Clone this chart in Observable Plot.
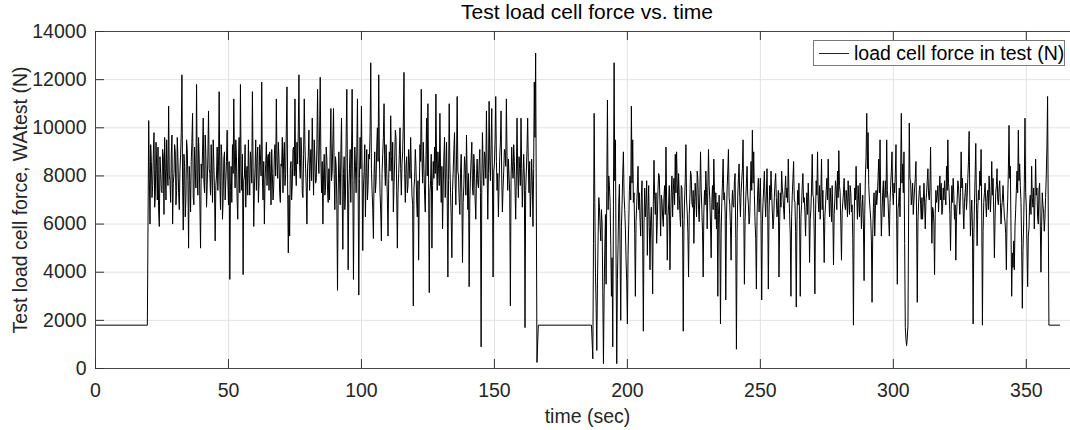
<!DOCTYPE html>
<html>
<head>
<meta charset="utf-8">
<script src="https://cdn.jsdelivr.net/npm/d3@7"></script>
<script src="https://cdn.jsdelivr.net/npm/@observablehq/plot@0.6"></script>
<style>
  html, body { margin: 0; padding: 0; background: #fff; overflow: hidden; }
  body { font-family: "Liberation Sans", Arial, Helvetica, sans-serif; }
  #wrap { position: relative; width: 1070px; height: 430px; overflow: hidden; }
  #title { position: absolute; left: 0; top: 1px; width: 1174px; text-align: center;
           font-size: 21px; line-height: 22px; color: #000; white-space: nowrap; }
  #legend { position: absolute; left: 813px; top: 40px; width: 252px; height: 26px;
            border: 1px solid #7a7a7a; background: #fff; box-sizing: border-box; }
  #legend .swatch { position: absolute; left: 5px; top: 12px; width: 30px; height: 0;
                    border-top: 1px solid #222; }
  #legend .lab { position: absolute; left: 40px; top: 1px; font-size: 19.5px; line-height: 22px;
                 color: #000; white-space: nowrap; }
</style>
</head>
<body>
<div id="wrap">
  <div id="chart"></div>
  <div id="title"></div>
  <div id="legend"><div class="swatch"></div><div class="lab"></div></div>
</div>
<script>
// ---- Text ----
const chartTitle = "Test load cell force vs. time";
const xLabel = "time (sec)";
const yLabel = "Test load cell force, WAtest (N)";
const seriesName = "load cell force in test (N)";

// ---- Axes ----
const xDomain = [0, 370];
const yDomain = [0, 14000];
const xTicks = [0, 50, 100, 150, 200, 250, 300, 350];
const yTicks = [0, 2000, 4000, 6000, 8000, 10000, 12000, 14000];

// ---- Data (N), sampled every 0.25 s; each row = 5 s ----
const sampleStep = 0.25;
const idleForce = 1800;
const idleSpans = [[0, 19.5], [166.5, 186.5], [358.5, 362.5]];

const phase1Start = 20;
const phase1Values = [
  10300, 7900, 6000, 9300, 8600, 7100, 7600, 8900, 9800, 6700, 7200, 9400, 8400, 7000, 9200, 6500, 5900, 8800, 8100, 7400,
  7300, 9100, 8800, 6400, 9600, 8300, 7000, 9500, 8200, 7600, 10900, 8000, 7800, 6900, 8900, 9700, 6000, 7700, 8100, 9300,
  9000, 6800, 7400, 9600, 8700, 7300, 6600, 8200, 8900, 9800, 12200, 7600, 5750, 8900, 8400, 6300, 7100, 9500, 9100, 7800,
  5000, 8400, 7800, 6500, 8600, 9400, 10600, 7100, 6800, 9200, 8300, 7500, 11800, 8000, 7200, 9600, 8700, 6800, 5000, 8500,
  7900, 9000, 10400, 7800, 7300, 9700, 8900, 6700, 7600, 8800, 10700, 8300, 8100, 7200, 9300, 8000, 6900, 9500, 8500, 7400,
  5300, 7600, 8000, 9200, 7400, 8400, 11500, 7800, 6600, 9300, 8800, 6200, 7100, 8700, 9000, 7000, 7800, 8600, 9900, 8000,
  6800, 8600, 3700, 7400, 8400, 6900, 9300, 8100, 11200, 8700, 7500, 9500, 8800, 7000, 6200, 8500, 9600, 7300, 11800, 8200,
  7400, 8900, 3900, 7800, 8000, 9300, 6700, 8100, 8400, 7200, 9500, 8000, 7200, 9000, 8600, 7700, 11500, 8400, 5900, 7500,
  8300, 9500, 7400, 8700, 9200, 6900, 7800, 9300, 8900, 8000, 11900, 7900, 7000, 8600, 6000, 7800, 8500, 9400, 7600, 8800,
  8900, 7400, 9000, 8200, 6800, 9100, 8100, 7000, 7500, 8900, 9300, 8000, 11200, 8600, 7900, 9400, 8700, 7300, 6900, 8500,
  8400, 9600, 7300, 8800, 9400, 7600, 8100, 9900, 11700, 7500, 4800, 7200, 5500, 8300, 8600, 7000, 7700, 9100, 9200, 8000,
  11200, 8200, 7600, 9400, 8500, 9900, 12200, 8400, 7900, 9600, 9000, 7300, 7100, 8900, 11200, 9300, 8300, 7500, 6000, 8400,
  8800, 9900, 7400, 8500, 9100, 7800, 10400, 8700, 7200, 9500, 8600, 7700, 7800, 9300, 11600, 8800, 8100, 9700, 12100, 8600,
  7300, 8600, 6000, 8000, 8900, 7200, 7500, 9200, 8700, 7400, 6900, 8300, 7000, 9100, 10800, 7800, 8200, 9400, 10800, 8100,
  6600, 8800, 8400, 6800, 3250, 7200, 9000, 7900, 6800, 8900, 10400, 7400, 4950, 8100, 8800, 6600, 7200, 9600, 11600, 8000,
  4100, 7400, 8300, 9100, 6900, 8700, 11600, 7800, 3700, 7600, 9200, 8400, 7300, 9000, 11200, 7700, 3050, 7900, 9600, 8300,
  10900, 8200, 4900, 7500, 8200, 9300, 6300, 8000, 9100, 7000, 7600, 8900, 8700, 9800, 12700, 8300, 7400, 6600, 5400, 8100,
  9000, 7300, 7800, 9200, 10000, 8600, 12200, 8800, 7300, 6500, 5300, 8100, 8900, 9600, 11000, 8400, 7600, 9300, 8300, 7000,
  5500, 7900, 9000, 8200, 10500, 8800, 7800, 9400, 6500, 7600, 8700, 9900, 9600, 7400, 5000, 7300, 8100, 8900, 10000, 8300,
  7200, 8500, 9000, 10200, 12300, 8100, 6900, 8400, 8800, 7300, 7600, 9100, 8600, 7900, 9600, 8300, 7200, 6800, 2600, 7500,
  7900, 9100, 8400, 7000, 6300, 7800, 4500, 7400, 9300, 8600, 11600, 8800, 7700, 9400, 8300, 7200, 6500, 8700, 10400, 8000,
  11000, 7700, 3150, 7300, 7800, 8900, 5000, 7600, 8600, 7900, 9200, 8100, 11400, 8500, 7400, 9000, 8300, 7600, 10600, 8200,
  6900, 8400, 5800, 7500, 8800, 9600, 7100, 8300, 9400, 7200, 3800, 7800, 11000, 8500, 7300, 6300, 4600, 7400, 8200, 9100,
  9800, 7700, 6800, 8700, 11300, 8200, 8000, 7000, 6400, 8100, 8900, 7300, 4400, 6900, 7600, 8800, 8400, 7200, 9700, 8000,
  6600, 8100, 3400, 7000, 8000, 8700, 9400, 7500, 7200, 8900, 8300, 7000, 6200, 7900, 8700, 7700, 7500, 8500, 9100, 7300,
  900, 7600, 9800, 8300, 7600, 9000, 8800, 7900, 10700, 8400, 6200, 8100, 11100, 8700, 7800, 9300, 10800, 8000, 3800, 8200,
  8500, 9500, 11300, 8600, 7400, 8100, 6300, 7700, 8800, 9400, 10700, 7900, 6500, 7500, 8200, 9100, 9000, 8400, 11200, 8800,
  7400, 8700, 8000, 7300, 2600, 7800, 9200, 8400, 7900, 9300, 8600, 7500, 6200, 8000, 10400, 8200, 7100, 8800, 8300, 7600,
  10400, 8300, 6700, 7900, 8900, 8000, 1700, 7400, 8200, 9100, 10400, 8500, 7300, 8600, 6300, 7400, 8700, 7800, 5900, 8300,
  11900, 9600, 13100, 7000, 250
];

const phase2Start = 187;
const phase2Values = [
  400, 5200, 10600, 6900, 4000, 2500, 750, 3600, 5500, 7100, 6700, 5900, 5300, 6600, 6000, 3200, 200, 3100, 4900, 6400,
  3500, 7400, 11150, 6600, 8000, 7600, 6900, 5100, 3000, 4600, 900, 6800, 12700, 7800, 9500, 4400, 200, 3700, 5200, 6900,
  7650, 4800, 2000, 5900, 6800, 8100, 9000, 7200, 6600, 5800, 4500, 3600, 1850, 4700, 6000, 7400, 8000, 7000, 10900, 7700,
  9500, 6900, 7300, 5600, 3000, 6100, 6800, 7500, 8400, 6600, 7300, 6200, 5500, 7100, 7800, 5300, 1550, 6000, 7500, 6300,
  6900, 7800, 4700, 6500, 7600, 5900, 4100, 6200, 6700, 5400, 3100, 6800, 8650, 7200, 6400, 7300, 5200, 6100, 7400, 8100,
  8000, 6800, 5500, 7200, 7000, 6300, 5900, 7100, 7600, 6400, 9200, 7000, 4500, 6300, 6800, 7600, 4100, 6200, 7300, 8000,
  6300, 7400, 7900, 6800, 8900, 7300, 9000, 7700, 6600, 8100, 7200, 6400, 5900, 7600, 7500, 6200, 1550, 5800, 7000, 7800,
  9300, 7000, 6500, 5600, 3800, 6400, 7100, 8200, 8000, 6900, 6700, 7400, 5200, 6800, 7700, 7100, 6300, 8200, 7900, 6600,
  6100, 7300, 9000, 7400, 6600, 5700, 3800, 6500, 7400, 6800, 8200, 7300, 5800, 7500, 9100, 7600, 7000, 6000, 4600, 6900,
  7600, 6600, 8700, 7400, 6200, 7300, 5800, 6900, 3000, 6400, 7200, 6000, 1850, 5600, 6900, 7700, 8700, 7000, 7300, 6500,
  2850, 6200, 7500, 8200, 9100, 7100, 6800, 5900, 4500, 6600, 7400, 6800, 6700, 7800, 8100, 5400, 800, 5600, 7200, 7900,
  8500, 7100, 6300, 7300, 7800, 8300, 9500, 6700, 3500, 6100, 7000, 7700, 8400, 7200, 6800, 6000, 6300, 7500, 8600, 7400,
  9900, 7700, 9000, 7200, 6100, 5400, 3300, 6300, 7400, 7900, 6500, 7100, 7900, 6200, 2850, 6000, 6900, 7500, 8200, 7000,
  6300, 7200, 8300, 6800, 3300, 6400, 7600, 7000, 8200, 7300, 6500, 5800, 6200, 7100, 7700, 8100, 7100, 6300, 6600, 7400,
  3800, 6100, 7300, 6700, 8200, 7500, 7200, 6600, 6200, 7400, 8000, 7100, 7500, 6900, 8700, 7300, 6400, 5500, 3000, 6300,
  7200, 7900, 8600, 7000, 6900, 5700, 2550, 6000, 7400, 6800, 7700, 6200, 3000, 6300, 6800, 7600, 8100, 6900, 7100, 6500,
  5500, 6700, 7300, 6400, 7700, 6800, 4400, 6200, 6600, 7500, 8900, 7200, 7100, 5600, 3100, 6500, 7800, 7200, 9000, 7000,
  6500, 7600, 6200, 7300, 8700, 6600, 7400, 6100, 4400, 6300, 6800, 7400, 7900, 7000, 8700, 7300, 6300, 7500, 6900, 6100,
  7600, 6500, 4300, 6400, 7000, 7800, 7500, 6600, 8200, 7100, 9050, 7600, 7300, 6000, 4500, 6500, 6900, 7300, 7900, 6800,
  6600, 7400, 7000, 6300, 7800, 7100, 6400, 7600, 7300, 6500, 6800, 5400, 1800, 6100, 7500, 7000, 8400, 7200, 6200, 7600,
  6900, 6300, 7700, 7000, 5800, 6700, 7200, 6000, 3650, 6400, 8000, 8800, 10600, 8300, 9800, 7600, 7000, 6600, 6200, 5300,
  2750, 5600, 6700, 7300, 5500, 6600, 7400, 6800, 7200, 7900, 8700, 7300, 9500, 7000, 5500, 6500, 7300, 7800, 6300, 7100,
  7800, 7100, 9500, 7400, 7000, 6200, 5500, 6900, 7600, 8200, 9000, 7300, 6800, 7700, 7300, 8100, 9300, 6200, 3500, 6600,
  6900, 7500, 6300, 8200, 10600, 7700, 8500, 7300, 9000, 5200, 1700, 1200, 950, 1300, 1800, 6500, 10200, 7900, 7800, 6800,
  7200, 7700, 6400, 7000, 7500, 7900, 8600, 6300, 2750, 6100, 6900, 7400, 7600, 6800, 6200, 7100, 6200, 6900, 7700, 7000,
  5800, 6900, 7300, 7800, 8300, 7200, 7000, 7500, 9200, 6800, 5200, 6700, 6600, 6000, 3900, 6400, 7400, 6900, 7200, 7600,
  6500, 7300, 8000, 7000, 7700, 6400, 6600, 7500, 7000, 7800, 7200, 6800, 8400, 7400, 9500, 7700, 7300, 6400, 4900, 6600,
  7600, 6900, 7900, 7200, 6200, 6800, 4500, 6300, 7000, 7800, 7600, 7000, 6400, 7300, 9000, 7500, 7900, 6600, 5800, 6900,
  7300, 7700, 6600, 7100, 7900, 8600, 9850, 7200, 5500, 6400, 7000, 5900, 1850, 5400, 6800, 8000, 9350, 6900, 5100, 6600,
  7400, 7000, 8200, 7600, 9100, 6300, 1800, 5700, 6900, 7300, 7700, 6900, 6300, 7100, 7400, 6600, 8000, 7300, 6500, 7200,
  8600, 7200, 7900, 6500, 4600, 6200, 7300, 7600, 8300, 7000, 6800, 7500, 7800, 6900, 6000, 6700, 7000, 7600, 6900, 6300,
  6100, 5600, 4100, 6200, 7000, 8200, 10100, 7900, 8400, 5700, 3000, 4800, 4200, 5300, 4100, 5900, 6600, 7400, 8200, 7300,
  9900, 7800, 8500, 7600, 6900, 5200, 2500, 4900, 6000, 7700, 10400, 7300, 6700, 5100, 3400, 5500, 5800, 6900, 7200, 6400,
  8400, 7100, 6700, 7500, 5800, 7000, 8700, 7200, 7500, 6300, 6000, 7400, 7700, 6100, 4000, 5900, 7300, 6800, 6500, 5700,
  6200, 7100, 8000, 9200, 11300
];

// ---- Build one continuous record ----
const records = [];
idleSpans.forEach(([a, b]) => { records.push({t: a, f: idleForce}, {t: b, f: idleForce}); });
phase1Values.forEach((f, i) => records.push({t: phase1Start + i * sampleStep, f}));
phase2Values.forEach((f, i) => records.push({t: phase2Start + i * sampleStep, f}));
records.sort((p, q) => p.t - q.t);

const textColor = "#262626";
const W = 1080, H = 430, mL = 95, mR = 1, mT = 31, mB = 62;
const plotW = W - mL - mR, plotH = H - mT - mB;
const tickLen = 9;

const chart = Plot.plot({
  width: W, height: H,
  marginLeft: mL, marginRight: mR, marginTop: mT, marginBottom: mB,
  style: {fontFamily: "'Liberation Sans', Arial, sans-serif", fontSize: "19.5px", color: textColor,
          background: "transparent", maxWidth: "none", overflow: "visible"},
  x: {domain: xDomain},
  y: {domain: yDomain},
  marks: [
    Plot.ruleX(xTicks, {x: d => d, stroke: "#e2e2e2", strokeWidth: 1}),
    Plot.ruleY(yTicks, {y: d => d, stroke: "#e2e2e2", strokeWidth: 1}),
    Plot.lineY(records, {x: "t", y: "f", stroke: "#000", strokeWidth: 1}),
    Plot.frame({stroke: "#444", strokeWidth: 1}),
    Plot.tickX(xTicks, {x: d => d, insetTop: plotH - tickLen, stroke: "#333"}),
    Plot.tickX(xTicks, {x: d => d, insetBottom: plotH - tickLen, stroke: "#333"}),
    Plot.tickY(yTicks, {y: d => d, insetRight: plotW - tickLen, stroke: "#333"}),
    Plot.axisX(xTicks, {tickSize: 0, tickPadding: 15, label: null, tickFormat: d => String(d), fill: textColor}),
    Plot.axisY(yTicks, {tickSize: 0, tickPadding: 9, label: null, tickFormat: d => String(d), fill: textColor}),
    Plot.text([xLabel], {text: d => d, frameAnchor: "bottom", dy: 54, fill: textColor, fontSize: 19.5}),
    Plot.text([yLabel], {text: d => d, frameAnchor: "left", textAnchor: "middle", rotate: -90, dx: -75, fill: textColor, fontSize: 19.5})
  ]
});
document.getElementById("chart").appendChild(chart);
document.getElementById("title").textContent = chartTitle;
document.querySelector("#legend .lab").textContent = seriesName;
</script>
</body>
</html>
